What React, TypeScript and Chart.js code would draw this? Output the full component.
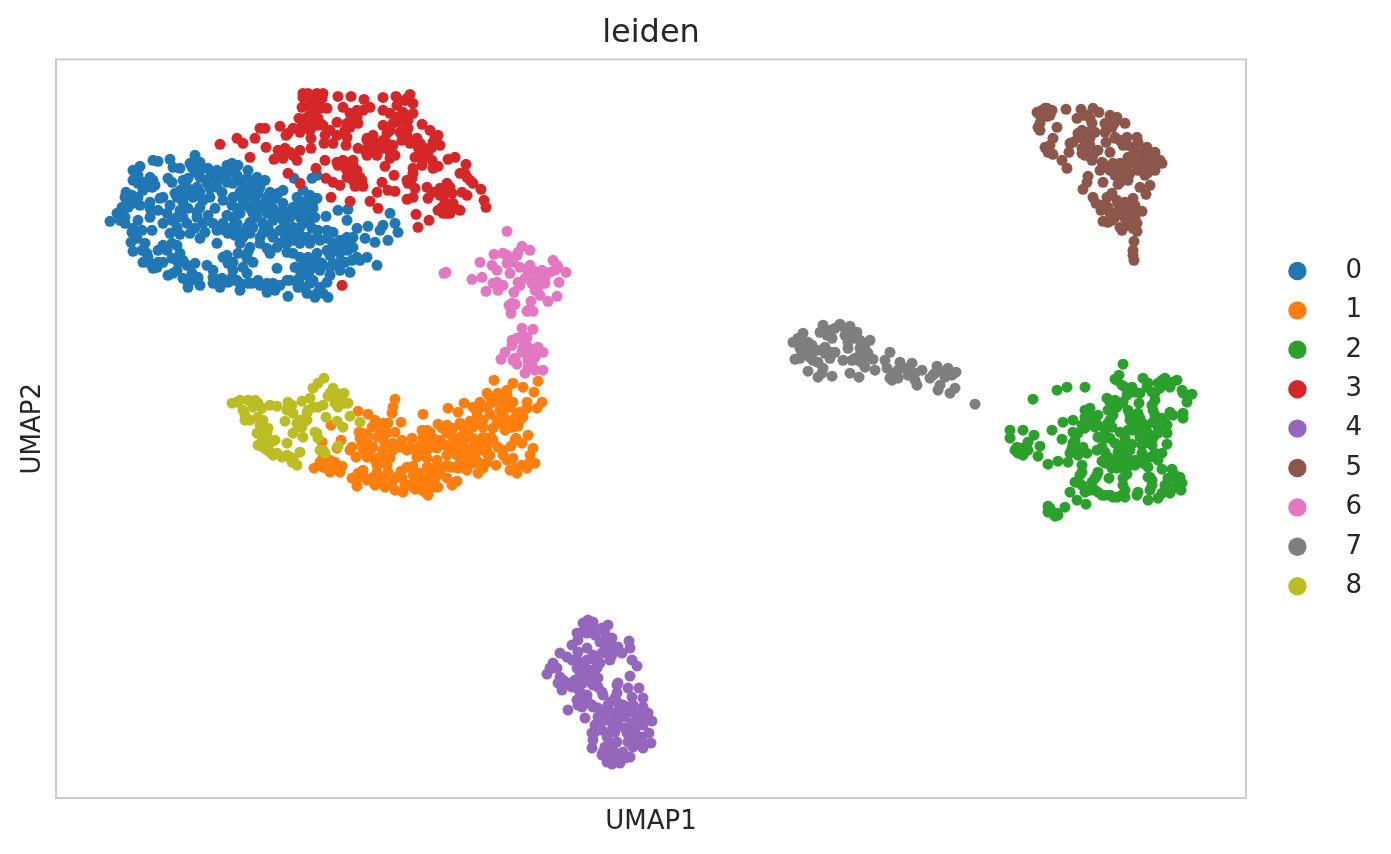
import React, { useEffect, useRef } from "react";
import { Chart, registerables } from "chart.js";

Chart.register(...registerables);

const categories = ["0", "1", "2", "3", "4", "5", "6", "7", "8"];
const colors = ["#1f77b4", "#ff7f0e", "#2ca02c", "#d62728", "#9467bd", "#8c564b", "#e377c2", "#7f7f7f", "#bcbd22"];

const cluster0 = [[54,577],[61,585],[66,591],[70,606],[71,601],[74,596],[69,575],[76,566],[75,556],[77,547],[82,578],[86,568],[89,555],[91,545],[87,536],[97,530],[101,531],[96,568],[79,626],[84,632],[77,618],[82,615],[87,608],[94,621],[97,638],[102,637],[114,639],[117,631],[124,630],[112,620],[116,616],[96,611],[99,613],[82,601],[94,596],[107,601],[94,581],[107,575],[116,578],[121,571],[114,565],[124,564],[107,553],[102,548],[116,555],[124,545],[107,536],[116,540],[127,538],[139,535],[151,533],[157,528],[112,523],[121,528],[136,525],[127,520],[132,511],[144,513],[141,518],[139,643],[134,635],[144,636],[152,630],[161,628],[171,633],[176,635],[182,633],[192,628],[191,620],[201,621],[209,618],[181,623],[172,625],[157,620],[144,621],[132,620],[124,608],[131,611],[141,611],[151,615],[161,611],[171,616],[177,615],[184,606],[194,610],[204,611],[214,606],[227,608],[219,600],[121,601],[127,596],[137,601],[144,591],[154,601],[159,590],[167,598],[177,601],[187,598],[199,600],[209,596],[181,590],[194,590],[206,590],[217,590],[227,595],[241,601],[247,608],[254,603],[261,600],[237,591],[247,593],[234,581],[244,581],[257,590],[254,578],[244,571],[227,578],[217,578],[207,575],[194,576],[177,581],[176,571],[167,575],[157,575],[147,575],[141,581],[134,565],[144,560],[161,555],[172,565],[184,566],[194,565],[204,561],[214,566],[224,568],[234,561],[244,555],[254,555],[262,568],[271,568],[277,566],[264,558],[277,555],[291,561],[301,570],[297,551],[309,560],[292,548],[284,545],[274,543],[301,541],[311,541],[294,526],[284,528],[274,531],[266,535],[257,533],[252,541],[244,541],[239,531],[231,546],[224,555],[211,550],[214,545],[192,546],[182,545],[184,555],[167,541],[172,535],[177,528],[197,536],[221,530],[191,525],[176,521],[166,520],[157,521],[164,511],[184,508],[192,515],[202,518],[211,515],[224,513],[232,502],[211,506],[219,508],[234,518],[244,521],[251,523],[257,518],[271,516],[264,511],[251,505],[259,501],[272,501],[242,511],[321,533],[312,572],[334,585],[339,575],[342,566],[332,558],[319,556],[324,568],[327,573],[291,578],[282,588],[292,589],[270,582],[256,620],[261,623],[238,620],[252,538],[284,536],[261,545],[191,571],[201,581],[221,585],[184,585],[231,571],[247,561],[237,571],[212,570],[197,585],[161,568],
[77,628],[82,623],[87,616],[97,618],[69,601],[76,603],[104,600],[114,593],[124,588],[132,590],[141,586],[136,631],[139,626],[147,630],[154,621],[164,620],[167,626],[176,628],[127,618],[119,605],[129,603],[134,606],[144,606],[147,598],[154,610],[166,606],[184,618],[187,611],[199,615],[192,603],[202,605],[211,601],[222,605],[214,593],[224,586],[232,586],[241,586],[244,596],[251,598],[257,596],[251,586],[259,581],[247,575],[256,570],[241,565],[229,563],[217,561],[207,566],[197,571],[187,561],[179,563],[169,568],[181,575],[171,583],[176,593],[191,593],[201,593],[211,585],[226,583],[152,583],[149,566],[139,570],[127,581],[131,575],[121,581],[111,585],[102,588],[94,590],[84,593],[77,595],[72,591],[69,581],[64,578],[77,570],[81,560],[86,548],[92,541],[94,535],[102,536],[111,548],[121,553],[122,536],[131,533],[134,518],[142,521],[117,525],[164,518],[172,516],[181,518],[187,531],[177,536],[171,543],[191,540],[194,551],[204,555],[221,551],[231,555],[237,558],[251,561],[261,561],[271,560],[284,558],[297,561],[292,553],[281,548],[271,548],[261,538],[247,533],[237,545],[244,528],[254,528],[264,528],[274,523],[254,515],[247,511],[241,518],[261,505],[267,505],[231,518],[217,515],[204,513],[196,515],[184,515],[177,518],[157,515],[132,516],[287,551],[296,538],[304,538],[289,536],[277,535]];

const cluster1 = [[438,418],[457,415],[467,411],[482,417],[478,406],[486,396],[481,390],[471,396],[431,405],[442,405],[451,408],[457,396],[447,396],[437,396],[424,396],[408,395],[417,391],[392,390],[402,386],[434,384],[447,385],[464,386],[459,380],[421,386],[414,377],[367,384],[339,399],[337,391],[336,385],[345,376],[302,387],[312,384],[319,378],[327,375],[332,375],[275,373],[303,366],[382,374],[391,373],[404,375],[424,375],[437,370],[449,368],[462,372],[366,368],[374,366],[339,366],[324,361],[311,363],[306,355],[317,351],[329,355],[337,348],[346,358],[356,360],[351,348],[364,353],[372,358],[381,350],[389,353],[397,361],[409,365],[417,360],[427,361],[435,361],[404,351],[412,348],[424,348],[431,351],[442,351],[447,343],[457,340],[455,352],[460,360],[472,363],[466,355],[477,350],[474,343],[479,335],[471,330],[461,325],[454,328],[440,333],[422,325],[427,330],[417,335],[411,328],[402,330],[394,331],[391,343],[401,343],[381,338],[371,331],[374,322],[384,325],[396,313],[401,317],[382,311],[372,303],[366,308],[359,309],[347,306],[339,308],[329,311],[319,313],[301,312],[296,320],[307,323],[317,321],[327,321],[336,316],[346,320],[345,327],[357,332],[357,323],[364,315],[331,333],[321,333],[307,328],[302,325],[334,340],[324,341],[314,345],[361,341],[371,340],[296,351],[294,348],[300,341],[285,358],[281,350],[266,356],[267,341],[272,335],[279,336],[286,332],[284,326],[274,326],[258,330],[267,331],[307,348],[414,370],[391,365],[427,371],[441,378],[454,371],[467,381],[381,325],[351,331],[394,348],[371,348],
[421,381],[431,391],[444,388],[454,391],[461,385],[451,378],[442,375],[427,378],[417,371],[407,371],[397,370],[386,370],[404,361],[414,361],[422,356],[407,355],[397,355],[419,341],[409,343],[412,336],[422,336],[431,336],[434,343],[404,335],[397,331],[391,333],[377,330],[386,330],[379,320],[391,320],[374,311],[377,316],[367,318],[364,325],[361,345],[366,348],[376,351],[367,361],[377,360],[384,358],[371,368],[354,351],[344,351],[337,355],[321,361],[311,356],[314,350],[304,360],[311,341],[319,338],[327,348],[324,335],[332,326],[321,326],[311,318],[324,315],[301,320],[341,321],[349,313],[354,313],[361,315],[369,306],[377,311],[307,365],[316,371],[324,370],[331,365],[274,338],[281,331],[271,330],[264,336],[447,348],[451,338],[459,358],[466,333],[459,330],[474,336],[437,358],[427,355],[417,351],[431,345],[457,371],[464,378],[471,390],[451,403],[442,400],[434,401],[424,391]];

const cluster2 = [[1067,434],[1063,423],[1059,419],[1066,413],[1076,411],[1084,405],[1071,403],[1087,420],[1092,415],[1109,420],[1121,418],[1102,415],[1114,411],[1126,408],[1136,404],[1131,396],[1127,405],[1099,398],[1096,406],[1001,408],[1011,411],[1029,411],[977,399],[1051,400],[1059,398],[1067,396],[1083,395],[1034,390],[1029,381],[1057,383],[1072,388],[1097,388],[1114,386],[1127,385],[1127,380],[1117,383],[1007,376],[1017,378],[1042,383],[1052,375],[1074,378],[1084,380],[1109,376],[1097,376],[954,368],[967,368],[978,363],[954,360],[996,368],[1006,359],[1017,366],[1029,370],[1042,373],[1064,366],[1077,368],[1087,368],[1102,365],[1111,365],[972,356],[984,352],[962,350],[972,348],[962,345],[967,343],[982,342],[1017,355],[1027,351],[1042,361],[1054,360],[1046,351],[1076,354],[1086,353],[1096,353],[1111,354],[1092,361],[1014,345],[1022,343],[1031,345],[1049,346],[1062,346],[1071,345],[1086,341],[1106,345],[1102,338],[992,334],[1002,337],[1012,336],[1046,337],[1056,338],[1067,336],[1079,333],[1092,331],[1026,333],[1056,330],[1071,324],[1094,321],[1106,329],[1116,329],[1024,323],[1041,323],[1053,320],[1019,316],[1036,316],[1026,313],[1067,313],[1096,313],[1112,320],[1124,321],[1126,315],[1109,313],[1014,306],[1029,306],[1039,308],[1046,303],[1054,303],[1061,301],[1069,301],[1082,306],[1092,298],[1102,300],[1114,305],[1125,308],[1021,298],[1030,294],[1009,291],[992,292],[992,286],[997,285],[1002,283],[1069,360],[1049,335],
[1026,373],[1022,365],[1019,358],[1016,350],[1022,350],[1034,376],[1039,371],[1049,368],[1054,378],[1052,388],[1061,391],[1056,371],[1049,360],[1041,348],[1052,341],[1059,355],[1067,353],[1071,341],[1062,338],[1074,348],[1079,338],[1087,335],[1086,345],[1094,341],[1099,345],[1074,333],[1067,330],[1061,330],[1091,356],[1097,360],[1102,371],[1106,380],[1111,373],[1099,383],[1096,393],[1091,411],[1099,405],[1104,410],[1111,416],[1116,416],[1106,418],[1131,403],[1072,368],[1074,383],[1079,373],[1082,385],[1086,375],[1091,373],[1092,365],[1084,361],[1061,418],[1069,411],[1079,406],[1054,396],[1036,381],[1029,388],[1019,348],[961,351],[969,351],[959,348],[1026,326],[1021,316],[1039,320],[1042,326],[1034,308],[1042,306],[1049,303],[1057,301],[1066,303],[1067,320],[1069,308],[1092,321],[1096,318],[1094,308],[1106,305],[1112,311],[1121,316],[1119,323],[1122,310],[1081,303],[996,286],[1001,285],[994,290],[999,282]];

const cluster3 = [[164,654],[181,660],[187,655],[194,641],[199,660],[204,670],[209,670],[210,651],[224,672],[218,639],[222,648],[227,640],[229,650],[232,625],[244,615],[237,643],[241,638],[244,648],[230,663],[237,670],[244,666],[243,680],[247,701],[252,705],[261,705],[267,705],[246,691],[257,695],[257,685],[271,690],[264,698],[282,702],[295,702],[308,699],[287,691],[294,685],[301,681],[307,688],[314,691],[327,701],[340,702],[354,704],[349,698],[357,695],[327,688],[334,685],[341,681],[347,686],[357,685],[257,676],[251,675],[264,675],[281,676],[274,668],[289,668],[294,671],[302,675],[255,660],[255,650],[268,655],[277,655],[290,653],[269,663],[281,663],[291,661],[311,658],[317,663],[327,673],[334,668],[321,655],[331,655],[344,666],[352,670],[366,674],[374,668],[382,663],[384,653],[361,660],[354,655],[369,650],[377,656],[359,641],[366,633],[376,638],[377,630],[382,632],[392,639],[399,641],[410,634],[404,625],[411,621],[417,615],[425,609],[428,598],[430,591],[411,603],[406,606],[391,615],[384,610],[377,606],[371,611],[387,603],[396,605],[372,600],[386,591],[387,585],[394,585],[404,588],[397,595],[360,584],[373,578],[362,571],[359,610],[357,601],[351,599],[357,630],[356,620],[351,618],[338,623],[326,616],[321,606],[332,608],[339,607],[329,632],[314,597],[322,590],[294,597],[275,601],[307,612],[299,612],[284,613],[277,616],[270,620],[260,630],[269,638],[281,636],[289,631],[297,626],[304,621],[291,621],[297,638],[302,650],[311,643],[321,643],[334,640],[339,643],[287,638],[286,513],[352,681],[364,655],[331,665],[314,648],[294,636],[392,608],
[254,691],[261,700],[264,690],[262,680],[254,668],[267,673],[297,678],[301,688],[291,675],[311,660],[316,655],[327,658],[326,650],[337,653],[346,658],[351,663],[359,656],[362,651],[372,646],[364,643],[367,640],[379,661],[376,651],[337,675],[344,676],[352,678],[341,693],[351,700],[297,633],[291,628],[301,628],[306,618],[297,618],[282,633],[321,648],[334,646],[309,648],[389,608],[384,603],[389,596],[392,590],[399,590],[394,611],[382,588],[414,618],[409,625],[357,625],[352,615],[391,585],[381,655],[226,646],[234,646],[232,665],[244,670],[251,681],[261,673],[247,705],[257,701],[266,700],[252,700]];

const cluster4 = [[532,178],[527,175],[537,176],[552,173],[546,170],[521,165],[531,165],[516,153],[522,158],[539,163],[556,160],[549,153],[562,151],[573,157],[574,150],[566,145],[546,145],[531,150],[504,145],[511,141],[576,138],[581,132],[554,138],[539,138],[521,138],[497,135],[494,130],[491,124],[527,130],[537,128],[574,122],[507,118],[519,118],[542,120],[506,108],[516,111],[527,115],[537,113],[562,115],[572,110],[583,110],[561,105],[576,101],[587,100],[547,103],[521,98],[531,103],[512,88],[526,91],[536,93],[552,93],[562,95],[572,91],[587,91],[529,80],[542,81],[549,86],[557,85],[566,85],[577,86],[592,85],[596,77],[587,73],[576,75],[569,70],[556,75],[559,66],[539,73],[536,65],[537,58],[593,65],[551,61],[561,56],[576,61],[581,56],[595,55],[587,50],[577,51],[536,50],[549,51],[557,48],[567,46],[546,43],[554,40],[564,38],[574,41],[556,34],[564,35],[551,36],[542,90],[524,106],[581,81],[546,68],[586,61],
[532,171],[526,166],[537,170],[549,165],[551,158],[544,156],[557,150],[549,146],[556,143],[537,143],[531,138],[526,135],[532,128],[541,130],[544,135],[524,123],[531,120],[539,120],[512,115],[507,113],[521,110],[542,111],[546,106],[524,100],[532,96],[537,91],[522,93],[554,96],[559,100],[567,93],[577,93],[586,86],[554,86],[561,78],[569,81],[564,90],[549,78],[544,75],[539,66],[556,68],[562,73],[571,65],[579,68],[586,76],[591,78],[576,53],[572,56],[581,61],[554,56],[547,46],[552,46],[559,43],[566,43],[569,40],[559,36],[551,43],[586,55],[501,130],[497,130],[502,115],[504,121],[561,113],[522,146],[516,138],[521,130]];

const cluster5 = [[981,686],[989,690],[996,688],[991,682],[982,671],[984,668],[1010,689],[1001,671],[1025,689],[1021,680],[1031,683],[1037,690],[1043,686],[1036,675],[1054,683],[1061,681],[1049,675],[1056,671],[1069,675],[1026,668],[1022,661],[1034,660],[1014,655],[997,660],[989,651],[997,644],[1006,638],[1011,630],[1013,646],[1026,650],[1034,653],[1042,648],[1036,638],[1029,643],[1050,656],[1059,660],[1071,661],[1081,661],[1067,653],[1077,650],[1091,651],[1099,646],[1054,646],[1072,641],[1082,640],[1092,640],[1104,638],[1099,628],[1047,635],[1057,635],[1044,628],[1054,628],[1064,628],[1074,625],[1082,628],[1089,623],[1032,622],[1031,616],[1027,609],[1047,616],[1062,614],[1072,618],[1094,613],[1084,611],[1090,604],[1037,601],[1040,595],[1045,588],[1056,605],[1051,601],[1061,598],[1052,591],[1066,591],[1077,600],[1076,590],[1086,587],[1061,586],[1047,577],[1056,578],[1069,580],[1079,580],[1066,568],[1072,573],[1081,567],[1078,557],[1077,548],[1077,543],[1078,538],
[986,688],[992,686],[984,683],[991,690],[994,683],[984,675],[1022,665],[1027,660],[1031,666],[1027,683],[1034,680],[1039,666],[1054,676],[1059,676],[1049,666],[1059,661],[1064,658],[1072,653],[1082,656],[1077,641],[1074,635],[1079,635],[1087,633],[1096,631],[1092,626],[1064,635],[1069,631],[1059,623],[1067,621],[1051,631],[1046,636],[1064,616],[1086,646],[1091,645],[1096,640],[1099,638],[1106,635],[1026,645],[1032,643],[1037,643],[994,653],[992,646],[1017,656],[1062,595],[1067,588],[1071,585],[1079,586],[1081,575],[1076,576],[1071,575],[1064,571],[1054,585],[1059,581],[1052,576],[1079,593],[1046,593],[1077,570],[1069,596]];

const cluster6 = [[451,567],[390,526],[388,525],[424,536],[416,519],[426,521],[430,507],[438,544],[447,545],[451,535],[436,533],[441,528],[466,552],[474,548],[461,543],[454,525],[437,515],[442,508],[447,513],[458,506],[462,516],[464,531],[474,533],[472,523],[481,518],[486,528],[494,526],[497,538],[502,531],[510,526],[503,516],[489,515],[479,508],[484,503],[501,502],[492,497],[475,497],[459,494],[453,493],[455,485],[471,487],[477,487],[466,470],[477,469],[471,461],[456,458],[449,446],[445,439],[457,438],[461,434],[472,451],[482,451],[487,446],[474,440],[479,441],[472,431],[469,425],[479,428],[487,428],[467,450],[464,460],
[477,528],[484,523],[476,515],[469,520],[464,513],[482,511],[489,521],[499,528],[501,533],[451,543],[456,540],[462,546],[457,536],[472,528],[441,516],[472,488],[456,495],[466,461],[469,455],[476,448],[472,445],[466,446],[459,440],[479,446],[472,438],[476,433],[456,453],[461,460]];

const cluster7 = [[919,394],[737,456],[747,465],[742,460],[752,456],[744,450],[749,446],[739,439],[756,446],[757,438],[752,427],[762,421],[767,430],[776,422],[762,436],[769,451],[779,446],[774,440],[767,473],[764,466],[774,468],[776,460],[784,474],[794,472],[789,463],[801,466],[792,450],[804,458],[814,458],[809,450],[787,438],[796,438],[804,443],[812,445],[817,439],[806,436],[809,431],[794,425],[803,421],[834,446],[829,438],[819,428],[831,430],[834,420],[842,420],[844,436],[842,428],[856,435],[852,423],[866,428],[859,425],[861,413],[874,420],[881,432],[879,425],[892,430],[900,426],[889,421],[884,413],[882,408],[899,410],[894,405],
[744,456],[751,451],[756,453],[761,448],[746,445],[754,441],[744,440],[774,446],[769,445],[766,425],[769,468],[771,463],[779,470],[789,470],[796,465],[792,456],[799,460],[807,453],[804,450],[811,441],[802,438],[799,440],[807,435],[836,418],[837,425],[851,430],[859,418],[877,423],[887,426],[896,423]];

const cluster8 = [[268,420],[262,415],[257,410],[176,395],[184,398],[192,398],[199,398],[187,388],[189,378],[197,391],[206,390],[214,393],[221,392],[207,378],[201,365],[207,368],[212,370],[202,353],[207,356],[219,358],[211,348],[217,343],[226,341],[234,341],[244,346],[236,336],[241,333],[231,355],[232,396],[231,388],[237,385],[229,377],[246,397],[254,400],[252,388],[262,391],[267,393],[244,378],[251,378],[237,365],[247,361],[242,371],[259,366],[262,360],[264,348],[269,345],[282,352],[277,410],[272,402],[279,401],[288,405],[284,395],[292,395],[270,381],[281,377],[287,371],[294,382],[304,376],[282,391],
[181,396],[196,396],[202,395],[189,383],[194,378],[202,381],[204,373],[211,365],[206,361],[214,355],[207,351],[214,346],[221,345],[231,343],[237,340],[241,375],[246,371],[251,385],[257,391],[236,393],[232,390],[281,405],[286,398],[274,405],[279,395],[289,395],[261,365],[267,348],[246,378],[199,393]];

const clusters = [cluster0, cluster1, cluster2, cluster3, cluster4, cluster5, cluster6, cluster7, cluster8];

const titleText = "leiden";
const xLabel = "UMAP1";
const yLabel = "UMAP2";
const textColor = "#262626";
const frameColor = "#cccccc";
const fontFamily = "'DejaVu Sans'";

// Draws the four-sided frame and places the legend column in the right margin.
const framePlugin = {
  id: "frame",
  beforeDraw(chart: any) {
    const legend = chart.legend;
    if (legend) {
      legend.left = 1287 - 13;
      legend.right = 1362;
      legend.top = 271 - chart.legend.legendHitBoxes[0].height / 2 - 13.4;
      legend.bottom = 854;
    }
  },
  afterDraw(chart: any) {
    const { left, top, width, height } = chart.chartArea;
    const ctx = chart.ctx;
    ctx.save();
    ctx.strokeStyle = frameColor;
    ctx.lineWidth = 2;
    ctx.strokeRect(left, top, width, height);
    ctx.restore();
  },
};

export default function App() {
  const ref = useRef<HTMLCanvasElement>(null);
  useEffect(() => {
    if (!ref.current) return;
    const chart = new Chart(ref.current, {
      type: "scatter",
      data: {
        datasets: categories.map((name, i) => ({
          label: name,
          data: clusters[i].map(([x, y]) => ({ x, y })),
          backgroundColor: colors[i],
          borderWidth: 0,
          pointRadius: 5.5,
          pointHoverRadius: 5.5,
          pointStyle: "circle",
          order: -i,
        })),
      },
      options: {
        responsive: false,
        animation: false,
        layout: { padding: { left: 17.4, right: 145, top: 0, bottom: 16 } },
        scales: {
          x: {
            type: "linear",
            min: 0,
            max: 1190,
            grid: { display: false, drawTicks: false },
            border: { display: false },
            ticks: { display: false },
            title: {
              display: true,
              text: xLabel,
              color: textColor,
              font: { family: fontFamily, size: 26 },
              padding: { top: 8.8, bottom: 0 },
            },
          },
          y: {
            type: "linear",
            min: 0,
            max: 739,
            grid: { display: false, drawTicks: false },
            border: { display: false },
            ticks: { display: false },
            title: {
              display: true,
              text: yLabel,
              color: textColor,
              font: { family: fontFamily, size: 26 },
              padding: { top: 0, bottom: 7.4 },
            },
          },
        },
        plugins: {
          tooltip: { enabled: false },
          title: {
            display: true,
            fullSize: false,
            text: titleText,
            color: textColor,
            font: { family: fontFamily, size: 32, weight: "normal" },
            padding: { top: 14, bottom: 7 },
          },
          legend: {
            display: true,
            position: "chartArea",
            align: "start",
            labels: {
              usePointStyle: true,
              boxWidth: 20,
              boxHeight: 13,
              padding: 13.4,
              textAlign: "right",
              color: textColor,
              font: { family: fontFamily, size: 26 },
              sort: (a: any, b: any) => a.datasetIndex - b.datasetIndex,
            },
          },
        },
      },
      plugins: [framePlugin],
    } as any);
    return () => chart.destroy();
  }, []);
  return (
    <div style={{ position: "absolute", left: 0, top: 0, width: 1391, height: 854, background: "#fff" }}>
      <canvas ref={ref} width={1391} height={854} style={{ display: "block" }} />
    </div>
  );
}
